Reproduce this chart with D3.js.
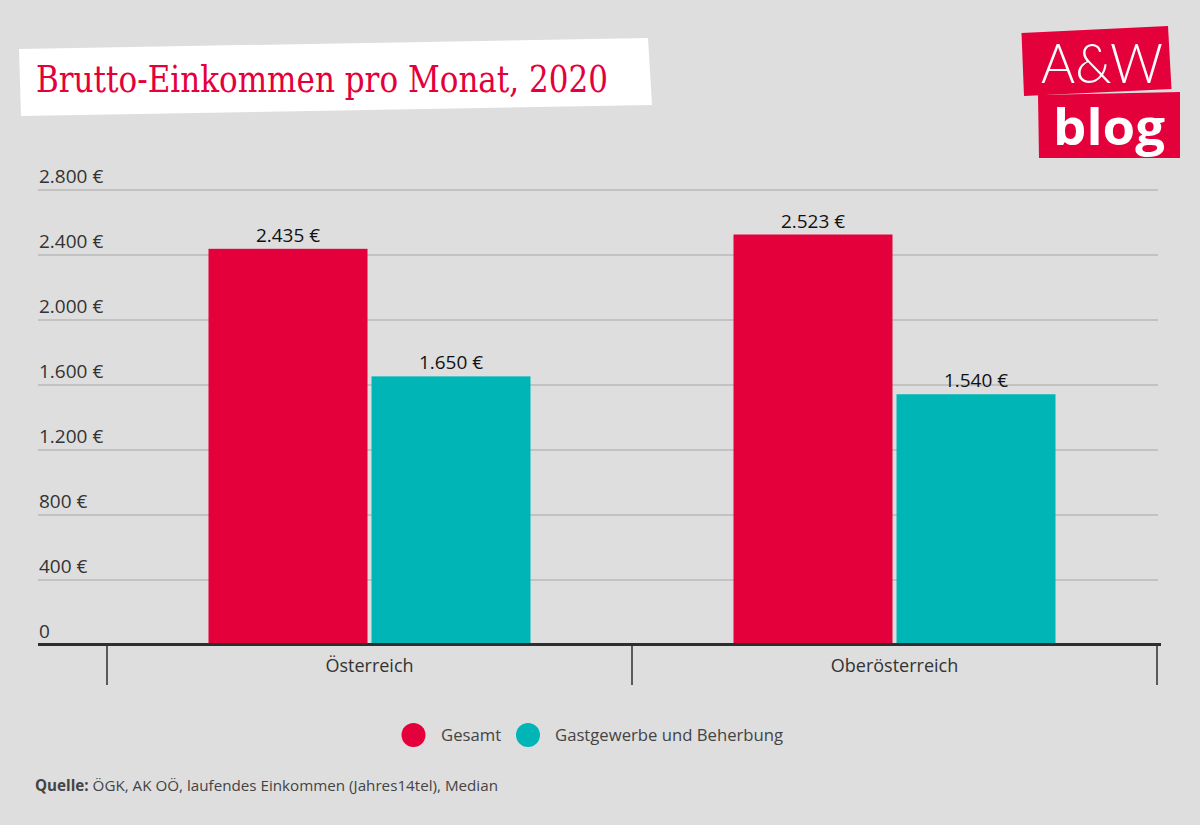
<!DOCTYPE html>
<html>
<head>
<meta charset="utf-8">
<script src="https://cdn.jsdelivr.net/npm/d3@7"></script>
<style>
  html, body { margin: 0; padding: 0; background: #dedede; }
  svg { display: block; }
</style>
</head>
<body>
<svg id="chart" width="1200" height="825"></svg>
<script>
// ---- data ----
const categories = ["Österreich", "Oberösterreich"];
const seriesNames = ["Gesamt", "Gastgewerbe und Beherbung"];
const gesamtValues = [2435, 2523];
const gastgewerbeValues = [1650, 1540];
const yTickValues = [0, 400, 800, 1200, 1600, 2000, 2400, 2800];
const yTickLabels = ["0", "400 €", "800 €", "1.200 €", "1.600 €", "2.000 €", "2.400 €", "2.800 €"];
const valueLabels = [["2.435 €", "2.523 €"], ["1.650 €", "1.540 €"]];
const titleText = "Brutto-Einkommen pro Monat, 2020";
const sourceBold = "Quelle:";
const sourceText = " ÖGK, AK OÖ, laufendes Einkommen (Jahres14tel), Median";

const seriesValues = [gesamtValues, gastgewerbeValues];
const colors = ["#e4003a", "#00b5b6"];

const svg = d3.select("#chart");
svg.append("rect").attr("width", 1200).attr("height", 825).attr("fill", "#dedede");

// ---- title box ----
svg.append("polygon")
  .attr("points", "19,49 648,38 652,105 21,116")
  .attr("fill", "#ffffff");
svg.append("text")
  .attr("x", 36).attr("y", 92)
  .attr("font-family", "'DejaVu Serif', 'Liberation Serif', serif")
  .attr("font-size", 38)
  .attr("fill", "#e4003a")
  .attr("textLength", 572)
  .attr("lengthAdjust", "spacingAndGlyphs")
  .text(titleText);

// ---- logo ----
svg.append("polygon")
  .attr("points", "1021.5,33 1168,26 1171.5,89 1024,96")
  .attr("fill", "#e4003a");
svg.append("polygon")
  .attr("points", "1038,95 1180,92 1180,158 1039,158")
  .attr("fill", "#e4003a");
svg.append("text")
  .attr("x", 1041).attr("y", 83)
  .attr("font-family", "Lato, sans-serif")
  .attr("font-weight", 300)
  .attr("font-size", 55)
  .attr("fill", "#ffffff")
  .attr("textLength", 122)
  .attr("lengthAdjust", "spacingAndGlyphs")
  .text("A&W");
svg.append("text")
  .attr("x", 1053).attr("y", 145)
  .attr("font-family", "'Open Sans', sans-serif")
  .attr("font-weight", 700)
  .attr("font-size", 50)
  .attr("fill", "#ffffff")
  .attr("textLength", 112)
  .attr("lengthAdjust", "spacingAndGlyphs")
  .text("blog");

// ---- scales ----
const y = d3.scaleLinear().domain([0, 2800]).range([644.5, 189.5]);
const x0 = d3.scaleBand().domain(categories).range([107, 1157]).padding(0);
const groupWidth = 322;
const x1 = d3.scaleBand().domain(seriesNames).range([0, groupWidth]).paddingInner(4 / 163).paddingOuter(0);
const groupOffset = (x0.bandwidth() - groupWidth) / 2;

const font = "'Open Sans', sans-serif";

// ---- gridlines ----
const grid = svg.append("g")
  .attr("transform", "translate(38,0)")
  .call(d3.axisLeft(y).tickValues(yTickValues.filter(v => v > 0)).tickSize(-1120).tickFormat(""));
grid.select(".domain").remove();
grid.selectAll(".tick line").attr("stroke", "#b9b9b9").attr("stroke-width", 1.5);

// y tick labels
svg.append("g").selectAll("text")
  .data(yTickValues)
  .join("text")
  .attr("x", 39)
  .attr("y", d => y(d) - 7)
  .attr("font-family", font)
  .attr("font-size", 19)
  .attr("fill", "#333")
  .text((d, i) => yTickLabels[i]);

// ---- bars ----
const groups = svg.append("g").selectAll("g")
  .data(categories)
  .join("g")
  .attr("transform", d => `translate(${x0(d) + groupOffset},0)`);

groups.selectAll("rect")
  .data((c, ci) => seriesNames.map((s, si) => ({ s, si, v: seriesValues[si][ci], ci })))
  .join("rect")
  .attr("x", d => x1(d.s))
  .attr("width", x1.bandwidth())
  .attr("y", d => y(d.v))
  .attr("height", d => y(0) - y(d.v))
  .attr("fill", d => colors[d.si]);

groups.selectAll("text.val")
  .data((c, ci) => seriesNames.map((s, si) => ({ s, si, v: seriesValues[si][ci], ci })))
  .join("text")
  .attr("class", "val")
  .attr("x", d => x1(d.s) + x1.bandwidth() / 2)
  .attr("y", d => y(d.v) - 7)
  .attr("text-anchor", "middle")
  .attr("font-family", font)
  .attr("font-size", 19)
  .attr("fill", "#111")
  .text(d => valueLabels[d.si][d.ci]);

// ---- x axis ----
svg.append("line")
  .attr("x1", 38).attr("x2", 1161).attr("y1", 644.5).attr("y2", 644.5)
  .attr("stroke", "#2e2e2e").attr("stroke-width", 3);
const boundaries = [x0.range()[0], ...categories.map(c => x0(c) + x0.bandwidth())];
svg.append("g").selectAll("line")
  .data(boundaries)
  .join("line")
  .attr("x1", d => d).attr("x2", d => d)
  .attr("y1", 644.5).attr("y2", 685)
  .attr("stroke", "#2e2e2e").attr("stroke-width", 1.5);
svg.append("g").selectAll("text")
  .data(categories)
  .join("text")
  .attr("x", d => x0(d) + x0.bandwidth() / 2)
  .attr("y", 672)
  .attr("text-anchor", "middle")
  .attr("font-family", font)
  .attr("font-size", 18)
  .attr("fill", "#333")
  .text(d => d);

// ---- legend ----
const legendPos = [{ cx: 413.5, tx: 441 }, { cx: 528, tx: 555 }];
const legend = svg.append("g").selectAll("g")
  .data(seriesNames)
  .join("g");
legend.append("circle")
  .attr("cx", (d, i) => legendPos[i].cx)
  .attr("cy", 735)
  .attr("r", 12)
  .attr("fill", (d, i) => colors[i]);
legend.append("text")
  .attr("x", (d, i) => legendPos[i].tx)
  .attr("y", 741)
  .attr("font-family", font)
  .attr("font-size", 16.7)
  .attr("fill", "#444")
  .text(d => d);

// ---- source ----
const src = svg.append("text")
  .attr("x", 35).attr("y", 791)
  .attr("font-family", font)
  .attr("font-size", 15.2)
  .attr("fill", "#444");
src.append("tspan").attr("font-weight", 700).text(sourceBold);
src.append("tspan").text(sourceText);
</script>
</body>
</html>
